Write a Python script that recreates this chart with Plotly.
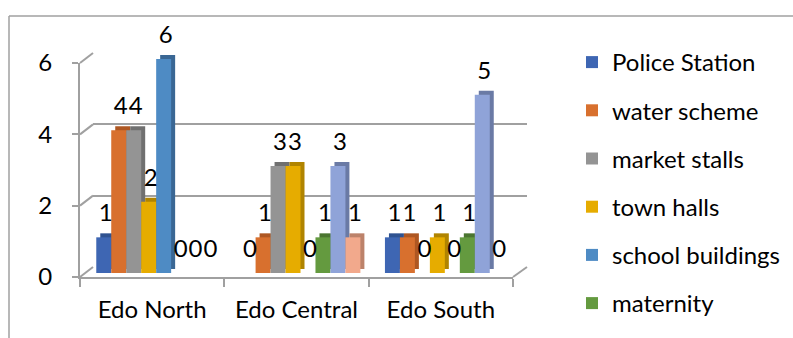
import plotly.graph_objects as go

# ---- data ----
categories = ["Edo North", "Edo Central", "Edo South"]
series_names = ["Police Station", "water scheme", "market stalls", "town halls",
                "school buildings", "maternity", "Series 7", "Series 8"]
police_station = [1, 0, 1]
water_scheme = [4, 1, 1]
market_stalls = [4, 3, 0]
town_halls = [2, 3, 1]
school_buildings = [6, 0, 0]
maternity = [0, 1, 1]
series_7 = [0, 3, 5]
series_8 = [0, 1, 0]
y_ticks = [0, 2, 4, 6]

values = [police_station, water_scheme, market_stalls, town_halls,
          school_buildings, maternity, series_7, series_8]
colors = ["#3E66B3", "#D8702E", "#949494", "#E6AC00",
          "#4E8BC4", "#649A3F", "#8FA3D8", "#F2A98C"]
side_colors = ["#2F5290", "#AE5722", "#707070", "#B08400",
               "#3A6794", "#4B7530", "#6A7AA5", "#BC826A"]
in_legend = [True, True, True, True, True, True, False, False]

W, H = 793, 338
def fx(p): return p / W
def fy(p): return 1 - p / H

FONT = "Lato"
FS = 24
GRAY = "#A0A0A0"

fig = go.Figure()
# depth (side/top faces) drawn behind the front faces
for name, vals, col in zip(series_names, values, side_colors):
    fig.add_trace(go.Bar(
        x=categories, y=vals, name=name, marker=dict(color=col, line=dict(width=0)),
        xaxis="x3", yaxis="y3", showlegend=False, hoverinfo="skip",
    ))
# front faces
for name, vals, col, leg in zip(series_names, values, colors, in_legend):
    fig.add_trace(go.Bar(
        x=categories, y=vals, name=name, marker=dict(color=col, line=dict(width=0)),
        xaxis="x4", yaxis="y4", showlegend=leg, legendgroup=name,
    ))
# value labels (transparent copies, lifted a few px above the bar tops)
for name, vals in zip(series_names, values):
    fig.add_trace(go.Bar(
        x=categories, y=vals, name=name, marker=dict(color="rgba(0,0,0,0)", line=dict(width=0)),
        text=[str(v) for v in vals], textposition="outside", constraintext="none",
        textfont=dict(family=FONT, size=FS, color="black"), cliponaxis=False,
        xaxis="x5", yaxis="y5", showlegend=False, hoverinfo="skip",
    ))

# invisible trace to set up the front category axis
fig.add_trace(go.Scatter(x=categories, y=[0, 0, 0], mode="markers",
                         marker=dict(opacity=0), showlegend=False, hoverinfo="skip",
                         xaxis="x", yaxis="y"))
# invisible trace for the back wall axes
fig.add_trace(go.Scatter(x=[0, 1], y=[0, 0], mode="markers", marker=dict(opacity=0),
                         showlegend=False, hoverinfo="skip", xaxis="x2", yaxis="y2"))

shapes = []
# outer frame
shapes.append(dict(type="line", xref="paper", yref="paper", x0=fx(9), x1=1, y0=fy(16), y1=fy(16),
                   line=dict(color=GRAY, width=1.5)))
shapes.append(dict(type="line", xref="paper", yref="paper", x0=fx(9), x1=fx(9), y0=fy(16), y1=0,
                   line=dict(color=GRAY, width=1.5)))
# side-wall diagonals connecting front axis to back wall gridlines
front_top, front_bot = 63, 277
back_top, back_bot = 53, 267
for t in y_ticks:
    yf = front_bot - (front_bot - front_top) * t / 6
    yb = back_bot - (back_bot - back_top) * t / 6
    shapes.append(dict(type="line", xref="paper", yref="paper", x0=fx(80), y0=fy(yf),
                       x1=fx(93), y1=fy(yb), line=dict(color=GRAY, width=2)))
# floor right edge
shapes.append(dict(type="line", xref="paper", yref="paper", x0=fx(513), y0=fy(277),
                   x1=fx(527), y1=fy(267), line=dict(color=GRAY, width=2)))

axis_font = dict(family=FONT, size=FS, color="black")
fig.update_layout(
    width=W, height=H, margin=dict(l=0, r=0, t=0, b=0, autoexpand=False),
    paper_bgcolor="white", plot_bgcolor="rgba(0,0,0,0)",
    barmode="group", bargap=0.17, bargroupgap=0,
    font=dict(family=FONT, size=FS, color="black"),
    xaxis=dict(domain=[fx(80), fx(513)], type="category", showline=True, linecolor=GRAY,
               linewidth=2, ticks="outside", ticklen=8, tickcolor=GRAY, tickwidth=2,
               tickson="boundaries", showgrid=False, tickfont=axis_font, anchor="y",
               range=[-0.5, 2.5], ticklabelstandoff=10, zeroline=False),
    yaxis=dict(domain=[fy(277), fy(63)], range=[0, 6], tickvals=y_ticks, showline=True,
               linecolor=GRAY, linewidth=2, ticks="outside", ticklen=6, tickcolor=GRAY,
               tickwidth=2, showgrid=False, zeroline=False, tickfont=axis_font, anchor="x",
               ticklabelstandoff=15),
    xaxis2=dict(domain=[fx(93), fx(527)], range=[0, 1], visible=False, anchor="y2"),
    yaxis2=dict(domain=[fy(267), fy(53)], range=[0, 6], tickvals=y_ticks, showgrid=True,
                gridcolor=GRAY, gridwidth=2, showticklabels=False, zeroline=False,
                showline=False, anchor="x2"),
    # depth faces: shifted back/right by 4 px
    xaxis3=dict(domain=[fx(88), fx(521)], type="category", range=[-0.5, 2.5], visible=False,
                anchor="y3"),
    yaxis3=dict(domain=[fy(269), fy(55)], range=[0, 6], visible=False, anchor="x3"),
    # front faces
    xaxis4=dict(domain=[fx(84), fx(517)], type="category", range=[-0.5, 2.5], visible=False,
                anchor="y4"),
    yaxis4=dict(domain=[fy(273), fy(59)], range=[0, 6], visible=False, anchor="x4"),
    # labels
    xaxis5=dict(domain=[fx(86), fx(519)], type="category", range=[-0.5, 2.5], visible=False,
                anchor="y5"),
    yaxis5=dict(domain=[fy(265), fy(51)], range=[0, 6], visible=False, anchor="x5"),
    legend=dict(x=fx(572), xanchor="left", y=fy(40), yanchor="top", tracegroupgap=14,
                font=dict(family=FONT, size=FS, color="black"), bgcolor="rgba(0,0,0,0)",
                itemclick=False),
    shapes=shapes,
    showlegend=True,
)

fig.write_html("out.html")
